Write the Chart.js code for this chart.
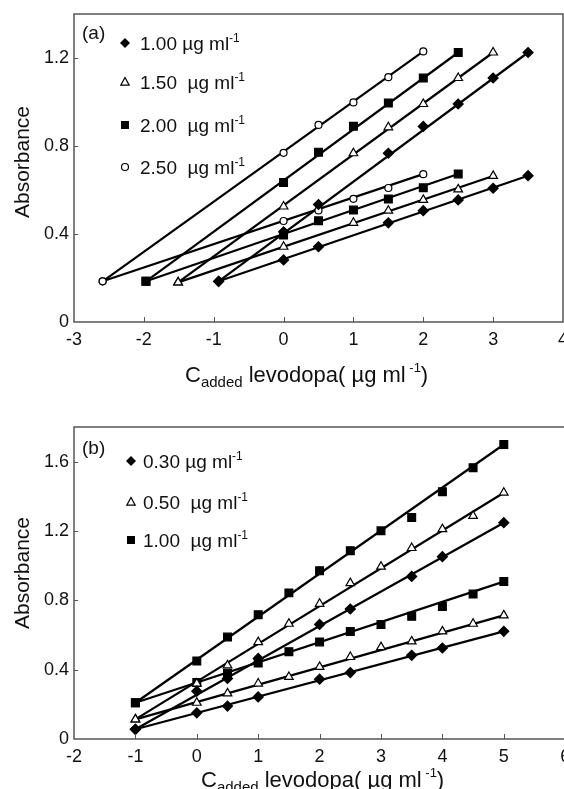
<!DOCTYPE html>
<html>
<head>
<meta charset="utf-8">
<script src="https://cdn.jsdelivr.net/npm/chart.js@4.4.0/dist/chart.umd.min.js"></script>
<style>
html, body { margin: 0; padding: 0; background: #fff; overflow: hidden; width: 564px; height: 789px; }
#wa { position: absolute; left: 0; top: 0; }
#wb { position: absolute; left: 0; top: 395px; }
</style>
</head>
<body>
<div id="wa"><canvas id="ca" width="572" height="395"></canvas></div>
<div id="wb"><canvas id="cb" width="572" height="394"></canvas></div>
<script>
// panel (a) : standard addition, four levels
const a100x  = [-0.93, 0, 0.5, 1.5, 2, 2.5, 3, 3.5];
const a100hi = [0.185, 0.41, 0.534, 0.767, 0.889, 0.991, 1.109, 1.225];
const a100lo = [0.185, 0.282, 0.342, 0.451, 0.506, 0.555, 0.608, 0.665];
const a150x  = [-1.51, 0, 1, 1.5, 2, 2.5, 3];
const a150hi = [0.18, 0.525, 0.767, 0.885, 0.991, 1.109, 1.225];
const a150lo = [0.18, 0.342, 0.451, 0.506, 0.555, 0.603, 0.664];
const a200x  = [-1.97, 0, 0.5, 1, 1.5, 2, 2.5];
const a200hi = [0.185, 0.634, 0.772, 0.890, 0.995, 1.109, 1.225];
const a200lo = [0.185, 0.395, 0.460, 0.509, 0.559, 0.610, 0.673];
const a250x  = [-2.59, 0, 0.5, 1, 1.5, 2];
const a250hi = [0.185, 0.769, 0.896, 0.998, 1.113, 1.230];
const a250lo = [0.185, 0.459, 0.507, 0.560, 0.609, 0.672];
const aLegend = ['1.00 \u00b5g ml', '1.50  \u00b5g ml', '2.00  \u00b5g ml', '2.50  \u00b5g ml'];
const aXTicks = [-3, -2, -1, 0, 1, 2, 3, 4];
const aXLabels = ['-3', '-2', '-1', '0', '1', '2', '3', '4'];
const aYTicks = [0, 0.4, 0.8, 1.2];
const aYLabels = ['0', '0.4', '0.8', '1.2'];

// panel (b) : three levels
const bx     = [-1, 0, 0.5, 1, 1.5, 2, 2.5, 3, 3.5, 4, 4.5, 5];
const b100hi = [0.209, 0.450, 0.588, 0.717, 0.843, 0.971, 1.086, 1.201, 1.278, 1.427, 1.565, 1.699];
const b100lo = [0.209, 0.326, 0.380, 0.438, 0.504, 0.560, 0.620, 0.660, 0.708, 0.764, 0.836, 0.908];
const b050hi = [0.113, 0.320, 0.425, 0.559, 0.665, 0.780, 0.899, 0.994, 1.102, 1.211, 1.287, 1.421];
const b050lo = [0.113, 0.209, 0.263, 0.320, 0.358, 0.416, 0.473, 0.530, 0.563, 0.621, 0.665, 0.713];
const b030x  = [-1, 0, 0.5, 1, 2, 2.5, 3.5, 4, 5];
const b030hi = [0.056, 0.276, 0.349, 0.465, 0.661, 0.750, 0.938, 1.052, 1.248];
const b030lo = [0.056, 0.151, 0.190, 0.243, 0.345, 0.383, 0.483, 0.525, 0.621];
const bLegend = ['0.30 \u00b5g ml', '0.50  \u00b5g ml', '1.00  \u00b5g ml'];
const bXTicks = [-2, -1, 0, 1, 2, 3, 4, 5, 6];
const bXLabels = ['-2', '-1', '0', '1', '2', '3', '4', '5', '6'];
const bYTicks = [0, 0.4, 0.8, 1.2, 1.6];
const bYLabels = ['0', '0.4', '0.8', '1.2', '1.6'];

const FONT = '"Liberation Sans", Arial, sans-serif';
const INK = '#111';
const AXIS = '#555';

function pts(xs, ys) {
  return xs.map((x, i) => ({ x: x, y: ys[i] }));
}

function series(xs, ys, style, filled, r) {
  const p = pts(xs, ys);
  return [
    { data: p, showLine: false, pointStyle: style, pointRadius: r,
      pointBackgroundColor: filled ? '#000' : '#fff', pointBorderColor: '#000',
      pointBorderWidth: 1.2, order: 0 },
    { data: [p[0], p[p.length - 1]], showLine: true, borderColor: '#000',
      borderWidth: 2.2, pointRadius: 0, order: 1 }
  ];
}

function marker(ctx, style, x, y) {
  ctx.save();
  ctx.beginPath();
  ctx.lineWidth = 1.2;
  ctx.strokeStyle = '#000';
  ctx.fillStyle = '#000';
  if (style === 'rectRot') {
    ctx.moveTo(x, y - 5); ctx.lineTo(x + 5, y); ctx.lineTo(x, y + 5); ctx.lineTo(x - 5, y);
    ctx.closePath(); ctx.fill();
  } else if (style === 'rect') {
    ctx.rect(x - 4, y - 4, 8, 8); ctx.fill();
  } else if (style === 'triangle') {
    ctx.moveTo(x, y - 4.5); ctx.lineTo(x + 4.2, y + 3.2); ctx.lineTo(x - 4.2, y + 3.2);
    ctx.closePath(); ctx.fillStyle = '#fff'; ctx.fill(); ctx.stroke();
  } else {
    ctx.arc(x, y, 3.5, 0, Math.PI * 2); ctx.fillStyle = '#fff'; ctx.fill(); ctx.stroke();
  }
  ctx.restore();
}

function rich(ctx, parts, x, y) {
  parts.forEach(p => {
    ctx.font = p.size + 'px ' + FONT;
    ctx.fillText(p.t, x, y + (p.dy || 0));
    x += ctx.measureText(p.t).width;
  });
}

function deco(c) {
  return {
    id: 'deco',
    afterDraw(chart) {
      const ctx = chart.ctx;
      const a = chart.chartArea;
      const sx = chart.scales.x, sy = chart.scales.y;
      ctx.save();
      // frame
      ctx.strokeStyle = AXIS;
      ctx.lineWidth = 1.5;
      ctx.strokeRect(a.left, a.top, a.right - a.left, a.bottom - a.top);
      // inward ticks
      ctx.lineWidth = 1;
      c.xt.forEach(v => {
        if (v <= sx.min || v >= sx.max) return;
        const px = Math.round(sx.getPixelForValue(v)) + 0.5;
        ctx.beginPath(); ctx.moveTo(px, a.bottom); ctx.lineTo(px, a.bottom - 5); ctx.stroke();
      });
      c.yt.forEach(v => {
        if (v <= sy.min || v >= sy.max) return;
        const py = Math.round(sy.getPixelForValue(v)) + 0.5;
        ctx.beginPath(); ctx.moveTo(a.left, py); ctx.lineTo(a.left + 4, py); ctx.stroke();
      });
      ctx.fillStyle = INK;
      ctx.textBaseline = 'alphabetic';
      ctx.textAlign = 'left';
      // panel tag
      ctx.font = '19px ' + FONT;
      ctx.fillText(c.tag, c.tagX, c.tagY);
      // legend
      c.legend.forEach((t, i) => {
        const y = c.legY[i];
        marker(ctx, c.legStyle[i], c.legX, y);
        ctx.fillStyle = INK;
        rich(ctx, [{ t: t, size: 19 }, { t: '-1', size: 12, dy: -8 }], c.legTextX, y + 7);
      });
      // x title
      rich(ctx, [
        { t: 'C', size: 22 },
        { t: 'added', size: 15, dy: 5 },
        { t: ' levodopa( \u00b5g ml', size: 22 },
        { t: ' -1', size: 13, dy: -10 },
        { t: ')', size: 22 }
      ], c.titleX, c.titleY);
      // y title
      ctx.translate(29, c.absY);
      ctx.rotate(-Math.PI / 2);
      ctx.textAlign = 'center';
      ctx.font = '21px ' + FONT;
      ctx.fillText('Absorbance', 0, 0);
      ctx.restore();
    }
  };
}

function scales(xmin, xmax, xt, xl, ymin, ymax, yt, yl, xh) {
  const tickFont = { family: FONT, size: 18 };
  return {
    x: {
      type: 'linear', min: xmin, max: xmax,
      afterBuildTicks: s => { s.ticks = xt.map(v => ({ value: v })); },
      afterFit: s => { s.height = xh; s.paddingLeft = 0; s.paddingRight = 0; },
      grid: { display: false, drawTicks: false },
      border: { display: false },
      ticks: { autoSkip: false, maxRotation: 0, padding: 7, color: INK, font: tickFont,
               callback: (v, i) => xl[i] }
    },
    y: {
      type: 'linear', min: ymin, max: ymax,
      afterBuildTicks: s => { s.ticks = yt.map(v => ({ value: v })); },
      afterFit: s => { s.width = 74; s.paddingTop = 0; s.paddingBottom = 0; },
      grid: { display: false, drawTicks: false },
      border: { display: false },
      ticks: { autoSkip: false, padding: 5, color: INK, font: tickFont,
               callback: (v, i) => yl[i] }
    }
  };
}

const common = {
  responsive: false,
  animation: false,
  plugins: { legend: { display: false }, tooltip: { enabled: false } }
};

new Chart(document.getElementById('ca'), {
  type: 'scatter',
  data: {
    datasets: [].concat(
      series(a100x, a100hi, 'rectRot', true, 5),
      series(a100x, a100lo, 'rectRot', true, 5),
      series(a150x, a150hi, 'triangle', false, 5),
      series(a150x, a150lo, 'triangle', false, 5),
      series(a200x, a200hi, 'rect', true, 5.5),
      series(a200x, a200lo, 'rect', true, 5.5),
      series(a250x, a250hi, 'circle', false, 3.5),
      series(a250x, a250lo, 'circle', false, 3.5)
    )
  },
  options: Object.assign({}, common, {
    layout: { padding: { left: 0, top: 14, right: 9, bottom: 0 } },
    scales: scales(-3, 4, aXTicks, aXLabels, 0, 1.4, aYTicks, aYLabels, 73)
  }),
  plugins: [deco({
    xt: aXTicks, yt: aYTicks, tag: '(a)', tagX: 82, tagY: 39,
    legend: aLegend, legStyle: ['rectRot', 'triangle', 'rect', 'circle'],
    legX: 125, legY: [43, 82, 125, 167], legTextX: 140,
    titleX: 185, titleY: 382, absY: 162
  })]
});

new Chart(document.getElementById('cb'), {
  type: 'scatter',
  data: {
    datasets: [].concat(
      series(b030x, b030hi, 'rectRot', true, 5),
      series(b030x, b030lo, 'rectRot', true, 5),
      series(bx, b050hi, 'triangle', false, 5),
      series(bx, b050lo, 'triangle', false, 5),
      series(bx, b100hi, 'rect', true, 5.5),
      series(bx, b100lo, 'rect', true, 5.5)
    )
  },
  options: Object.assign({}, common, {
    layout: { padding: { left: 0, top: 32, right: 6.8, bottom: 0 } },
    scales: scales(-2, 6, bXTicks, bXLabels, 0, 1.8, bYTicks, bYLabels, 50)
  }),
  plugins: [deco({
    xt: bXTicks, yt: bYTicks, tag: '(b)', tagX: 82, tagY: 59,
    legend: bLegend, legStyle: ['rectRot', 'triangle', 'rect'],
    legX: 131, legY: [66, 107, 145], legTextX: 143,
    titleX: 201, titleY: 392, absY: 178
  })]
});
</script>
</body>
</html>
